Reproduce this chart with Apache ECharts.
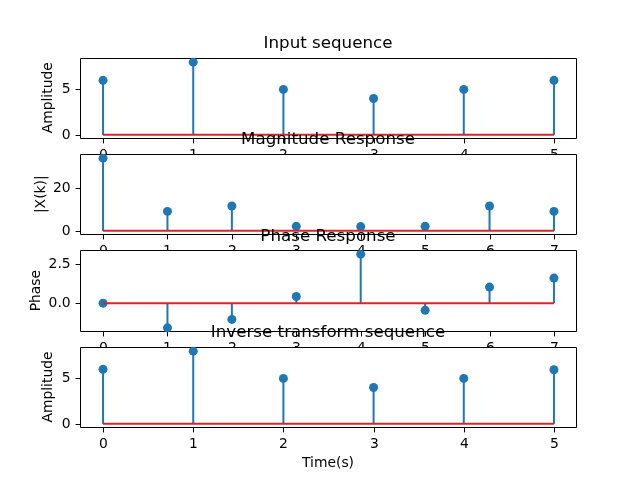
<!DOCTYPE html>
<html><head><meta charset="utf-8">
<script src="https://cdn.jsdelivr.net/npm/echarts@6/dist/echarts.min.js"></script>
<style>html,body{margin:0;padding:0;background:#fff}#c{width:640px;height:480px}</style>
</head><body><div id="c"></div>
<script>
// ---- data ----
const timeIdx = [0, 1, 2, 3, 4, 5];
const inputSeq = [6, 8, 5, 4, 5, 6];
const freqIdx = [0, 1, 2, 3, 4, 5, 6, 7];
const magnitude = [34, 9.1, 11.6, 2.1, 2.0, 2.1, 11.6, 9.1];
const phase = [0, -1.58, -1.04, 0.43, 3.1416, -0.46, 1.03, 1.61];
const inverseSeq = [6, 8, 5, 4, 5, 5.95];
const titles = ['Input sequence', 'Magnitude Response', 'Phase Response', 'Inverse transform sequence'];
const yNames = ['Amplitude', '|X(k)|', 'Phase', 'Amplitude'];
const xName = 'Time(s)';
const yTicks = [[0, 5], [0, 20], [0, 2.5], [0, 5]];
const yTickDecimals = [0, 0, 1, 0];

// ---- layout ----
const FONT = 'DejaVu Sans';
const TICK_FONT = '13.9px "DejaVu Sans"';
const L = 80, R = 576, TOP = 57.6, BOT = 427.2;
const h = (BOT - TOP) / 4.6, gap = h * 0.2;
const yNameX = [48, 41, 36, 48];
const TL = 4.9, PAD = 4.9;
const panels = [
  {x: timeIdx, y: inputSeq},
  {x: freqIdx, y: magnitude},
  {x: freqIdx, y: phase},
  {x: timeIdx, y: inverseSeq}
];

function range(arr) {
  const lo = Math.min(0, ...arr), hi = Math.max(0, ...arr);
  const m = (hi - lo) * 0.05;
  return [lo - m, hi + m];
}

const grid = [], xAxis = [], yAxis = [], series = [], title = [], graphic = [];
panels.forEach((p, i) => {
  const rawTop = TOP + i * (h + gap);
  const top = Math.round(rawTop) + 0.5;
  const bottom = Math.round(rawTop + h) + 0.5;
  const zb = i * 10;
  grid.push({left: L + 0.5, width: R - L, top: top, height: bottom - top, show: true,
    backgroundColor: '#fff', borderColor: '#000', borderWidth: 1, z: zb});
  const xr = range(p.x), yr = range(p.y);
  xAxis.push({type: 'value', gridIndex: i, min: xr[0], max: xr[1], z: zb + 1,
    axisLine: {show: false, onZero: false}, splitLine: {show: false},
    axisTick: {show: false}, axisLabel: {show: false}});
  yAxis.push({type: 'value', gridIndex: i, min: yr[0], max: yr[1], z: zb + 1,
    axisLine: {show: false, onZero: false}, splitLine: {show: false},
    axisTick: {show: false}, axisLabel: {show: false}});

  // x ticks + labels
  series.push({type: 'custom', xAxisIndex: i, yAxisIndex: i, z: zb + 1, clip: false, silent: true,
    data: p.x.map(v => [v, yr[0]]),
    renderItem: (params, api) => {
      const cs = params.coordSys;
      const px = Math.round(api.coord([api.value(0), api.value(1)])[0]) + 0.5;
      const by = cs.y + cs.height;
      return {type: 'group', children: [
        {type: 'line', shape: {x1: px, y1: by, x2: px, y2: by + TL}, style: {stroke: '#000', lineWidth: 1}},
        {type: 'text', x: px, y: by + TL + PAD, style: {text: String(api.value(0)), font: TICK_FONT,
          fill: '#000', align: 'center', verticalAlign: 'top'}}
      ]};
    }});
  // y ticks + labels
  series.push({type: 'custom', xAxisIndex: i, yAxisIndex: i, z: zb + 1, clip: false, silent: true,
    data: yTicks[i].map(v => [xr[0], v]),
    renderItem: (params, api) => {
      const cs = params.coordSys;
      const py = Math.round(api.coord([api.value(0), api.value(1)])[1]) + 0.5;
      const lx = cs.x;
      return {type: 'group', children: [
        {type: 'line', shape: {x1: lx - TL, y1: py, x2: lx, y2: py}, style: {stroke: '#000', lineWidth: 1}},
        {type: 'text', x: lx - TL - PAD, y: py, style: {text: api.value(1).toFixed(yTickDecimals[i]), font: TICK_FONT,
          fill: '#000', align: 'right', verticalAlign: 'middle'}}
      ]};
    }});

  const pts = p.x.map((x, j) => [x, p.y[j]]);
  series.push({type: 'custom', xAxisIndex: i, yAxisIndex: i, z: zb + 2, data: pts, silent: true,
    renderItem: (params, api) => {
      const a = api.coord([api.value(0), 0]);
      const b = api.coord([api.value(0), api.value(1)]);
      return {type: 'line', shape: {x1: a[0], y1: a[1], x2: b[0], y2: b[1]},
        style: {stroke: '#1f77b4', lineWidth: 2}};
    }});
  series.push({type: 'scatter', xAxisIndex: i, yAxisIndex: i, z: zb + 3, data: pts,
    symbol: 'circle', symbolSize: 9, itemStyle: {color: '#1f77b4', opacity: 1}, silent: true});
  const x0 = Math.min(...p.x), x1 = Math.max(...p.x);
  series.push({type: 'line', xAxisIndex: i, yAxisIndex: i, z: zb + 4, data: [[x0, 0], [x1, 0]],
    symbol: 'none', lineStyle: {color: '#d62728', width: 2}, silent: true});
  title.push({text: titles[i], left: (L + R) / 2, textAlign: 'center', top: rawTop - 22.5, padding: 0, z: zb + 6,
    textStyle: {color: '#000', fontFamily: FONT, fontSize: 16.7, fontWeight: 'normal'}});
  graphic.push({type: 'text', x: yNameX[i], y: rawTop + h / 2, rotation: Math.PI / 2, z: zb + 1,
    style: {text: yNames[i], font: TICK_FONT, fill: '#000', align: 'center', verticalAlign: 'middle'}});
  if (i === 3) {
    graphic.push({type: 'text', x: (L + R) / 2, y: rawTop + h + 29.5, z: zb + 1,
      style: {text: xName, font: TICK_FONT, fill: '#000', align: 'center', verticalAlign: 'top'}});
  }
});

const chart = echarts.init(document.getElementById('c'), null, {renderer: 'canvas'});
chart.setOption({animation: false, backgroundColor: '#fff', title, grid, xAxis, yAxis, series, graphic});
</script>
</body></html>
